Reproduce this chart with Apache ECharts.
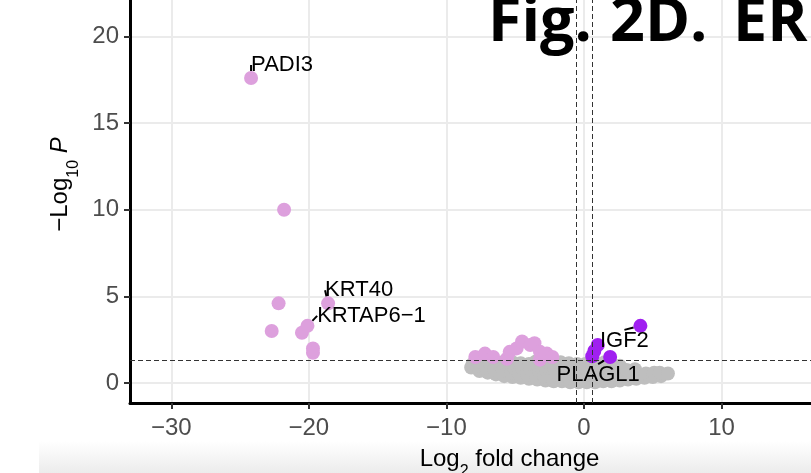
<!DOCTYPE html>
<html>
<head>
<meta charset="utf-8">
<script src="https://cdn.jsdelivr.net/npm/echarts@6/dist/echarts.min.js"></script>
<style>
  html, body { margin: 0; padding: 0; background: #fff; }
  #main { width: 811px; height: 473px; }
</style>
</head>
<body>
<div id="main"></div>
<script>
// 数据：log2 fold change, -log10 P
var xTicks = [-30, -20, -10, 0, 10];
var yTicks = [0, 5, 10, 15, 20];
var pThreshold = 1.3;
var fcThreshold = 0.585;

// 不显著的点（灰色）
var grayPoints = [
  [-8.2, 0.9], [-8.1, 1.1], [-7.6, 0.7], [-7.7, 1.0], [-7.5, 1.2],
  [-7.0, 0.6], [-7.1, 0.9], [-6.9, 1.2], [-6.4, 0.5], [-6.5, 0.8], [-6.3, 1.1],
  [-5.8, 0.4], [-5.9, 0.7], [-5.7, 1.0], [-5.8, 1.25],
  [-5.2, 0.35], [-5.3, 0.6], [-5.1, 0.9], [-5.2, 1.2],
  [-4.6, 0.3], [-4.7, 0.55], [-4.5, 0.85], [-4.6, 1.15],
  [-4.0, 0.25], [-4.1, 0.5], [-3.9, 0.8], [-4.0, 1.1],
  [-3.4, 0.2], [-3.5, 0.45], [-3.3, 0.75], [-3.4, 1.05], [-3.5, 1.25],
  [-2.8, 0.15], [-2.9, 0.4], [-2.7, 0.7], [-2.8, 1.0], [-2.9, 1.25],
  [-2.2, 0.1], [-2.3, 0.35], [-2.1, 0.65], [-2.2, 0.95], [-2.3, 1.2],
  [-1.6, 0.1], [-1.7, 0.3], [-1.5, 0.6], [-1.6, 0.9], [-1.7, 1.2],
  [-1.0, 0.05], [-1.1, 0.3], [-0.9, 0.55], [-1.0, 0.85], [-1.1, 1.15],
  [-0.4, 0.05], [-0.5, 0.25], [-0.3, 0.5], [-0.4, 0.8], [-0.5, 1.1],
  [0.2, 0.05], [0.1, 0.25], [0.3, 0.5], [0.2, 0.8], [0.1, 1.1],
  [0.8, 0.05], [0.9, 0.3], [0.7, 0.55], [0.8, 0.85], [0.9, 1.15],
  [1.4, 0.1], [1.5, 0.3], [1.3, 0.6], [1.4, 0.9], [1.5, 1.2],
  [2.0, 0.1], [2.1, 0.35], [1.9, 0.6], [2.0, 0.9],
  [2.6, 0.15], [2.7, 0.4], [2.5, 0.7], [2.6, 1.0],
  [3.2, 0.2], [3.3, 0.45], [3.1, 0.75],
  [3.8, 0.25], [3.9, 0.5], [3.7, 0.8],
  [4.4, 0.3], [4.5, 0.55], [5.0, 0.35], [5.1, 0.6],
  [5.6, 0.4], [5.5, 0.6], [6.1, 0.55]
];

// 显著下调（粉色）
var downPoints = [
  [-21.8, 10.0], [-22.2, 4.6], [-22.7, 3.0], [-20.5, 2.9], [-19.7, 2.0], [-19.7, 1.75],
  [-7.9, 1.5], [-7.2, 1.7], [-6.6, 1.5], [-5.6, 1.4], [-5.4, 1.8], [-4.9, 2.0],
  [-4.5, 2.4], [-3.9, 2.2], [-3.6, 2.3], [-3.2, 1.8], [-2.7, 1.7], [-2.3, 1.5], [-3.2, 1.35]
];

// 显著上调（紫色）
var upPoints = [
  [1.0, 2.2], [0.75, 1.85], [0.6, 1.55]
];

// 标注基因
var geneNames = ['PADI3', 'KRT40', 'KRTAP6\u22121', 'IGF2', 'PLAGL1'];
var geneValues = [[-24.2, 17.6], [-18.6, 4.6], [-20.1, 3.3], [4.1, 3.3], [1.9, 1.5]];
var geneColors = ['#dda0dd', '#dda0dd', '#dda0dd', '#a020f0', '#a020f0'];
var geneShift = [[31, -13], [31, -13], [64, -10], [-16, 15], [-12, 18]];

var myChart = echarts.init(document.getElementById('main'));

var geneData = geneNames.map(function(n, i) {
  return {
    name: n,
    value: geneValues[i],
    itemStyle: { color: geneColors[i], opacity: 1 }
  };
});

var titleFont = 'bold 61px "Open Sans"';

var option = {
  animation: false,
  backgroundColor: '#ffffff',
  grid: { left: 130, right: 0, top: 0, bottom: 70, outerBoundsMode: 'none' },
  graphic: [
    {
      type: 'rect',
      z: -10,
      shape: { x: 39, y: 441, width: 772, height: 32 },
      style: {
        fill: new echarts.graphic.LinearGradient(0, 0, 0, 1, [
          { offset: 0, color: '#ffffff' },
          { offset: 1, color: '#ececec' }
        ])
      }
    },
    { type: 'text', left: 488, top: -7, z: 100, style: { text: 'Fig.', font: titleFont, fill: '#000' } },
    { type: 'text', left: 610, top: -7, z: 100, style: { text: '2D.', font: titleFont, fill: '#000' } },
    { type: 'text', left: 733, top: -7, z: 100, style: { text: 'ER', font: titleFont, fill: '#000' } }
  ],
  xAxis: {
    type: 'value',
    min: -33,
    max: 16.5,
    name: '{a|Log}{s|2}{a| fold change}',
    nameLocation: 'middle',
    nameGap: 44,
    nameTextStyle: {
      padding: [0, 0, 0, 78],
      rich: {
        a: { fontSize: 24, color: '#000', fontFamily: 'Liberation Sans' },
        s: { fontSize: 16, color: '#000', fontFamily: 'Liberation Sans', verticalAlign: 'bottom', padding: [0, 0, -9, 0] }
      }
    },
    axisLine: { show: true, onZero: false, lineStyle: { color: '#000', width: 3 } },
    axisTick: { show: true, customValues: xTicks, length: 6, lineStyle: { color: '#333', width: 2 } },
    axisLabel: { customValues: xTicks, color: '#4d4d4d', fontSize: 24, margin: 13, fontFamily: 'Liberation Sans',
      formatter: function(v) { return String(v).replace('-', '\u2212'); } },
    splitLine: { show: true, lineStyle: { color: '#ebebeb', width: 2 } }
  },
  yAxis: {
    type: 'value',
    min: -1.15,
    max: 22.1,
    name: '{a|\u2212Log}{s|10}{a| }{i|P}',
    nameLocation: 'middle',
    nameRotate: 90,
    nameGap: 56,
    nameTextStyle: {
      padding: [0, 0, 0, 34],
      rich: {
        a: { fontSize: 24, color: '#000', fontFamily: 'Liberation Sans' },
        s: { fontSize: 16, color: '#000', fontFamily: 'Liberation Sans', verticalAlign: 'bottom', padding: [0, 0, -9, 0] },
        i: { fontSize: 24, color: '#000', fontFamily: 'Liberation Sans', fontStyle: 'italic' }
      }
    },
    axisLine: { show: true, onZero: false, lineStyle: { color: '#000', width: 3 } },
    axisTick: { show: true, customValues: yTicks, length: 6, lineStyle: { color: '#333', width: 2 } },
    axisLabel: { customValues: yTicks, color: '#4d4d4d', fontSize: 24, margin: 11, fontFamily: 'Liberation Sans' },
    splitLine: { show: true, lineStyle: { color: '#ebebeb', width: 2 } }
  },
  series: [
    {
      type: 'scatter',
      data: grayPoints,
      symbolSize: 14,
      itemStyle: { color: '#bebebe', opacity: 1 },
      markLine: {
        silent: true,
        symbol: 'none',
        label: { show: false },
        lineStyle: { color: '#333', width: 1, type: [5, 3] },
        data: [
          { yAxis: pThreshold },
          { xAxis: -fcThreshold },
          { xAxis: fcThreshold }
        ]
      }
    },
    {
      type: 'scatter',
      data: downPoints,
      symbolSize: 14,
      itemStyle: { color: '#dda0dd', opacity: 1 }
    },
    {
      type: 'scatter',
      data: upPoints,
      symbolSize: 14,
      itemStyle: { color: '#a020f0', opacity: 1 }
    },
    {
      type: 'scatter',
      data: geneData,
      symbolSize: 14,
      z: 5,
      label: {
        show: true,
        position: 'inside',
        formatter: '{b}',
        color: '#000',
        fontSize: 22,
        fontFamily: 'Liberation Sans'
      },
      labelLine: { show: true, length2: 0, lineStyle: { color: '#000', width: 2 } },
      labelLayout: function(params) {
        var s = geneShift[params.dataIndex];
        return { dx: s[0], dy: s[1] };
      }
    }
  ]
};

myChart.setOption(option);
</script>
</body>
</html>
